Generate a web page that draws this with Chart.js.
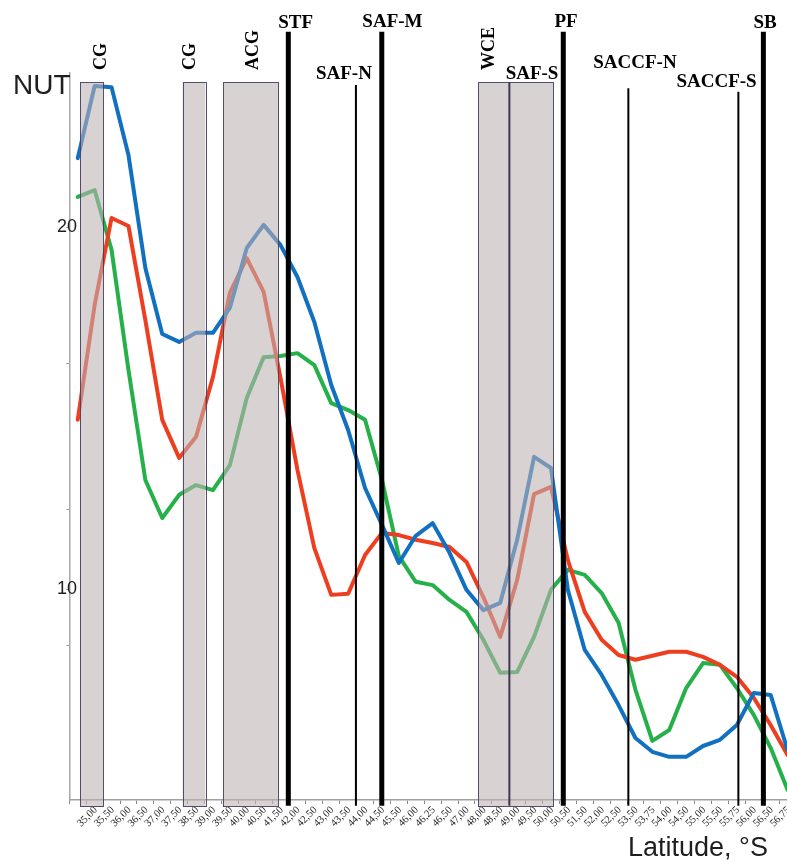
<!DOCTYPE html>
<html><head><meta charset="utf-8">
<script src="https://cdn.jsdelivr.net/npm/chart.js@4.4.1/dist/chart.umd.min.js"></script>
<style>
html,body{margin:0;padding:0;background:#fff;overflow:hidden;width:787px;height:863px;}
#wrap{position:relative;width:787px;height:863px;overflow:hidden;}
canvas{position:absolute;left:0;top:0;}
.t{position:absolute;font-family:"Liberation Sans",Arial,sans-serif;color:#1e1e1e;white-space:nowrap;}
</style></head><body>
<div id="wrap">
<canvas id="c" width="800" height="863"></canvas>
<div class="t" style="left:13px;top:71px;font-size:28px;line-height:28px;">NUT</div>
<div class="t" style="left:628px;top:834px;font-size:27px;line-height:27px;">Latitude, °S</div>
</div>
<script>
// ---- data ----
const latitudes = ["35,00","35,50","36,00","36,50","37,00","37,50","38,50","39,00","39,50","40,00","40,50","41,50","42,00","42,50","43,00","43,50","44,00","44,50","45,50","46,00","46,25","46,50","47,00","48,00","48,50","49,00","49,50","50,00","50,50","51,50","52,00","52,50","53,50","53,75","54,00","54,50","55,00","55,50","55,75","56,00","56,50","56,75",""];
const blueSeries  = [21.90,23.89,23.86,21.99,18.87,17.05,16.83,17.08,17.08,17.77,19.42,20.06,19.50,18.62,17.38,15.64,14.40,12.80,11.78,10.73,11.48,11.83,11.01,9.99,9.43,9.63,11.37,13.66,13.35,9.99,8.33,7.64,6.81,5.90,5.52,5.38,5.38,5.68,5.85,6.26,7.14,7.09,5.57];
const redSeries   = [14.68,17.85,20.25,20.03,17.43,14.68,13.63,14.21,15.86,18.18,19.14,18.21,15.83,13.30,11.14,9.85,9.88,10.95,11.56,11.50,11.37,11.28,11.17,10.76,9.79,8.69,10.26,12.63,12.83,10.81,9.38,8.61,8.19,8.06,8.17,8.28,8.28,8.14,7.92,7.59,7.01,6.26,5.43];
const greenSeries = [20.83,21.02,19.37,16.06,13.02,11.97,12.61,12.88,12.74,13.43,15.28,16.41,16.44,16.52,16.19,15.14,14.95,14.68,13.02,10.92,10.21,10.12,9.71,9.38,8.61,7.70,7.72,8.69,9.99,10.54,10.40,9.90,9.08,7.23,5.82,6.12,7.28,7.97,7.92,7.28,6.54,5.63,4.47];
const yTickValues = [8.46,10,12.2,16.23,20];
const yTickLabelled = [10,20];

// water-mass boxes (category index units)
const boxNames = ["CG","CG","ACG","WCE"];
const boxFrom  = [0.13,6.21,8.61,23.70];
const boxTo    = [1.49,7.55,11.87,28.14];
const boxLabelAt = [1.30,6.57,10.29,24.30];

// fronts (category index units)
const frontNames = ["STF","SAF-N","SAF-M","SAF-S","PF","SACCF-N","SACCF-S","SB"];
const frontAt    = [12.46,16.46,17.99,25.54,28.73,32.58,39.09,40.57];
const frontMajor = [true,false,true,false,true,false,false,true];
const frontLabelAt = [12.89,15.75,18.62,26.88,28.89,32.97,37.80,40.67];

// ---- layout / style ----
const frontTopMajor = 25.39, frontBottom = 4.03;
const frontTopMinor = [0,23.92,0,24.0,0,23.83,23.73,0];
const frontLabelBaseline = [28,79,27,79,27,68,87,28];
const boxTop = 23.99, boxBottom = 4.0;

const annot = {
  id:'annot',
  afterDatasetsDraw(chart){
    const {ctx, scales:{x,y}} = chart;
    ctx.save();
    for(let i=0;i<boxFrom.length;i++){
      const x0=x.getPixelForValue(boxFrom[i]), x1=x.getPixelForValue(boxTo[i]);
      const y0=y.getPixelForValue(boxTop), y1=y.getPixelForValue(boxBottom);
      ctx.fillStyle='rgba(190,178,179,0.58)';
      ctx.fillRect(x0,y0,x1-x0,y1-y0);
      ctx.strokeStyle='rgba(70,60,95,0.9)';
      ctx.lineWidth=1;
      ctx.strokeRect(Math.round(x0)+0.5,Math.round(y0)+0.5,Math.round(x1-x0),Math.round(y1-y0));
    }
    ctx.fillStyle='#000';
    ctx.font='bold 18px "Liberation Serif", "Times New Roman", serif';
    ctx.textAlign='left';ctx.textBaseline='alphabetic';
    for(let i=0;i<boxNames.length;i++){
      const px=x.getPixelForValue(boxLabelAt[i]);
      ctx.save();
      ctx.translate(px+6,70);
      ctx.rotate(-Math.PI/2);
      ctx.fillText(boxNames[i],0,0);
      ctx.restore();
    }
    for(let i=0;i<frontAt.length;i++){
      const px=x.getPixelForValue(frontAt[i]);
      const top=y.getPixelForValue(frontMajor[i]?frontTopMajor:frontTopMinor[i]);
      const bot=y.getPixelForValue(frontBottom);
      ctx.beginPath();
      ctx.moveTo(px,top);ctx.lineTo(px,bot);
      ctx.lineWidth=frontMajor[i]?5:2;
      ctx.strokeStyle=(frontNames[i]==='SAF-S')?'#3e3850':'#000';
      ctx.stroke();
      ctx.fillStyle='#000';
      ctx.font='bold 19px "Liberation Serif", "Times New Roman", serif';
      ctx.textAlign='center';
      ctx.fillText(frontNames[i],x.getPixelForValue(frontLabelAt[i]),frontLabelBaseline[i]);
    }
    ctx.restore();
  }
};

const mk=(label,data,color)=>({label,data,borderColor:color,backgroundColor:color,borderWidth:4,pointRadius:0,tension:0,fill:false,borderJoinStyle:'round',borderCapStyle:'round'});

new Chart(document.getElementById('c'),{
  type:'line',
  data:{labels:latitudes,datasets:[
    mk('blue',blueSeries,'rgb(18,112,192)'),
    mk('red',redSeries,'rgb(238,62,32)'),
    mk('green',greenSeries,'rgb(38,176,74)')
  ]},
  options:{
    responsive:false,animation:false,devicePixelRatio:1,
    layout:{padding:{left:0,right:4,top:73,bottom:0}},
    plugins:{legend:{display:false},tooltip:{enabled:false},title:{display:false}},
    scales:{
      x:{type:'category',offset:true,
        grid:{drawOnChartArea:false,offset:true,tickLength:4,color:'#8a8a8a',lineWidth:1},
        border:{display:true,color:'#a0a0a0',width:1.5},
        ticks:{autoSkip:false,minRotation:45,maxRotation:45,labelOffset:18,padding:0,color:'#222',
          font:{family:'"Liberation Serif", "Times New Roman", serif',size:10.5}},
        afterFit(s){s.height=63;}
      },
      y:{type:'linear',min:4.19,max:24.25,
        afterBuildTicks(s){s.ticks=yTickValues.map(v=>({value:v}));},
        grid:{drawOnChartArea:false,tickLength:3,color:'#9a9a9a'},
        border:{display:true,color:'#a8a8a8',width:1.5},
        ticks:{mirror:true,padding:-12.3,color:'#1e1e1e',font:{family:'"Liberation Sans", Arial, sans-serif',size:18},
          callback:(v)=>yTickLabelled.includes(v)?String(v):''},
        afterFit(s){s.width=69.3;}
      }
    }
  },
  plugins:[annot]
});
</script>
</body></html>
